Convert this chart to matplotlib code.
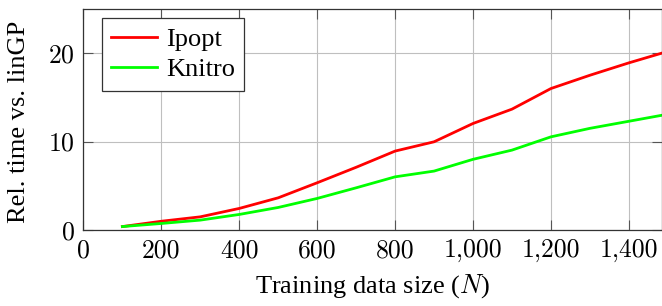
import matplotlib.pyplot as plt
from matplotlib.ticker import FuncFormatter

plt.rcParams["font.family"] = "serif"
plt.rcParams["font.serif"] = ["cmr10"]
plt.rcParams["mathtext.fontset"] = "cm"
plt.rcParams["axes.formatter.use_mathtext"] = True

# data
train_size = [100, 200, 300, 400, 500, 600, 700, 800, 900, 1000, 1100, 1200, 1300, 1400, 1500]
ipopt = [0.4, 1.0, 1.5, 2.45, 3.65, 5.35, 7.1, 8.93, 9.98, 12.05, 13.67, 16.0, 17.5, 18.9, 20.2]
knitro = [0.4, 0.75, 1.13, 1.77, 2.56, 3.58, 4.78, 6.02, 6.67, 8.0, 9.04, 10.54, 11.5, 12.3, 13.1]
x_ticks = [0, 200, 400, 600, 800, 1000, 1200, 1400]
y_ticks = [0, 10, 20]

text_font = "Liberation Serif"  # Times-like text, CM for the numbers

fig = plt.figure(figsize=(6.62, 3.06), dpi=100)
ax = fig.add_axes([0.126, 0.248, 0.874, 0.723])

ax.grid(True, color="#bfbfbf", linewidth=0.8)
ax.set_axisbelow(True)
ax.plot(train_size, ipopt, color="#ff0000", linewidth=2.0, label="Ipopt")
ax.plot(train_size, knitro, color="#00ff00", linewidth=2.0, label="Knitro")

ax.set_xlim(0, 1485)
ax.set_ylim(0, 25)
ax.set_xticks(x_ticks)
ax.set_yticks(y_ticks)
ax.xaxis.set_major_formatter(FuncFormatter(lambda v, p: f"{int(v):,}"))
ax.tick_params(direction="in", length=7, width=0.8, color="#555555",
               top=True, right=True, labelsize=18.5, pad=6)
for s in ax.spines.values():
    s.set_color("#333333")
    s.set_linewidth(0.9)

ax.set_xlabel("Training data size ($N$)", fontsize=19, family=text_font)
ax.set_ylabel("Rel. time vs. linGP", fontsize=19, family=text_font)
ax.xaxis.set_label_coords(0.5, -0.255)
ax.xaxis.label.set_va("center")
ax.yaxis.set_label_coords(-0.111, 0.49)
ax.yaxis.label.set_va("center")

leg = ax.legend(loc="upper left", bbox_to_anchor=(0.0315, 0.958),
                prop={"family": text_font, "size": 19}, fancybox=False,
                framealpha=1, edgecolor="#333333", handlelength=1.74,
                borderpad=0.35, labelspacing=0.27, handletextpad=0.35,
                borderaxespad=0)
leg.get_frame().set_linewidth(0.9)

plt.savefig("out.png", dpi=100)
